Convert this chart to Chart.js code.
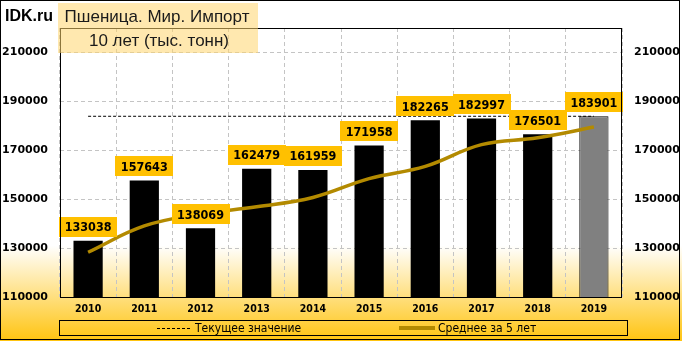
<!DOCTYPE html>
<html>
<head>
<meta charset="utf-8">
<script src="https://cdn.jsdelivr.net/npm/chart.js@4.4.1/dist/chart.umd.min.js"></script>
<style>
  html, body { margin: 0; padding: 0; background: #fff; }
  #wrap { width: 682px; height: 341px; }
</style>
</head>
<body>
<div id="wrap"><canvas id="chart" width="682" height="341"></canvas></div>
<script>
// Данные графика: мировой импорт пшеницы, тыс. тонн
const years = ["2010", "2011", "2012", "2013", "2014", "2015", "2016", "2017", "2018", "2019"];
const imports = [133038, 157643, 138069, 162479, 161959, 171958, 182265, 182997, 176501, 183901];
const average5 = [128300, 139050, 143900, 146900, 150700, 158400, 163400, 172300, 175100, 179500];
const currentValue = [183901, 183901, 183901, 183901, 183901, 183901, 183901, 183901, 183901, 183901];
const yTicks = [110000, 130000, 150000, 170000, 190000, 210000];

const titleLines = ["Пшеница. Мир. Импорт", "10 лет (тыс. тонн)"];
const siteName = "IDK.ru";

const gold = "#ffc000";
const avgColor = "#b38a00";
const barColors = years.map((y, i) => i === years.length - 1 ? "#808080" : "#000000");

const tickFont = { family: "DejaVu Sans", weight: "bold", size: 11 };
const xFont = { family: "DejaVu Sans Condensed", weight: "bold", size: 10.5 };

// Фон, подписи значений, рамки, заголовок и легенда рисуются одним плагином
const decor = {
  id: "decor",
  beforeDraw(chart) {
    const { ctx, width, height } = chart;
    const g = ctx.createLinearGradient(0, 0, 0, height);
    g.addColorStop(0, "#ffffff");
    g.addColorStop(0.72, "#ffffff");
    g.addColorStop(1, "#ffc410");
    ctx.save();
    ctx.fillStyle = g;
    ctx.fillRect(0, 0, width, height);
    ctx.restore();
  },
  afterDatasetsDraw(chart) {
    const { ctx } = chart;
    const meta = chart.getDatasetMeta(0);
    ctx.save();
    ctx.font = "bold 12.5px 'DejaVu Sans Condensed'";
    ctx.textAlign = "center";
    ctx.textBaseline = "middle";
    meta.data.forEach((bar, i) => {
      const text = String(imports[i]);
      const w = ctx.measureText(text).width + 11;
      const h = 20;
      const bottom = bar.y - 4;
      ctx.fillStyle = gold;
      ctx.fillRect(Math.round(bar.x - w / 2), Math.round(bottom - h), Math.round(w), h);
      ctx.fillStyle = "#000";
      ctx.fillText(text, bar.x, bottom - h / 2 + 1);
    });
    ctx.restore();
  },
  afterDraw(chart) {
    const { ctx, chartArea: a, width, height } = chart;
    ctx.save();
    // рамка области построения
    ctx.strokeStyle = "#000";
    ctx.lineWidth = 1;
    ctx.strokeRect(Math.round(a.left) + 0.5, Math.round(a.top) + 0.5,
      Math.round(a.right - a.left) - 1, Math.round(a.bottom - a.top));
    // внешняя рамка
    ctx.strokeRect(0.5, 0.5, width - 3, height - 2);

    // заголовок
    ctx.fillStyle = "rgba(255, 214, 110, 0.55)";
    ctx.fillRect(58, 3, 200, 50);
    ctx.fillStyle = "#1a1a1a";
    ctx.textAlign = "center";
    ctx.textBaseline = "alphabetic";
    ctx.font = "17px 'Liberation Sans'";
    ctx.fillText(titleLines[0], 157, 22);
    ctx.fillText(titleLines[1], 159, 46);
    ctx.textAlign = "left";
    ctx.fillStyle = "#000";
    ctx.font = "bold 16px 'Liberation Sans'";
    ctx.fillText(siteName, 5, 21);

    // легенда
    const ly = 328;
    ctx.strokeRect(59.5, 320.5, 568, 15);
    ctx.font = "12px 'DejaVu Sans Condensed'";
    ctx.textBaseline = "middle";
    const ds = chart.data.datasets;
    const cur = ds[2], avg = ds[1];
    ctx.strokeStyle = cur.borderColor;
    ctx.lineWidth = 1;
    ctx.setLineDash(cur.borderDash);
    ctx.beginPath(); ctx.moveTo(157, ly + 0.5); ctx.lineTo(190, ly + 0.5); ctx.stroke();
    ctx.setLineDash([]);
    ctx.fillStyle = "#000";
    ctx.fillText(cur.label, 195, ly + 1);
    ctx.strokeStyle = avg.borderColor;
    ctx.lineWidth = 4;
    ctx.beginPath(); ctx.moveTo(399, ly); ctx.lineTo(435, ly); ctx.stroke();
    ctx.fillText(avg.label, 438, ly + 1);
    ctx.restore();
  }
};

new Chart(document.getElementById("chart"), {
  data: {
    labels: years,
    datasets: [
      {
        type: "bar",
        label: "Импорт",
        data: imports,
        backgroundColor: barColors,
        borderColor: "#000",
        borderWidth: years.map((y, i) => i === years.length - 1 ? 1 : 0),
        barPercentage: 0.52,
        categoryPercentage: 1,
        order: 2
      },
      {
        type: "line",
        label: "Среднее за 5 лет",
        data: average5,
        borderColor: avgColor,
        borderWidth: 3.5,
        pointRadius: 0,
        tension: 0.4,
        fill: false,
        order: 1
      },
      {
        type: "line",
        label: "Текущее значение",
        data: currentValue,
        borderColor: "#000",
        borderWidth: 1,
        borderDash: [3, 2],
        pointRadius: 0,
        fill: false,
        order: 3
      }
    ]
  },
  options: {
    responsive: false,
    animation: false,
    devicePixelRatio: 1,
    layout: { padding: { top: 28, left: 0, right: 0, bottom: 0 } },
    plugins: { legend: { display: false }, tooltip: { enabled: false } },
    scales: {
      x: {
        grid: { display: true, offset: true, color: "#c4c4c4", drawTicks: false },
        border: { display: false, dash: [4, 3] },
        ticks: { color: "#000", font: xFont, padding: 6, maxRotation: 0 },
        afterFit(scale) { scale.height = 44; }
      },
      y: {
        position: "left",
        min: 110000,
        max: 220000,
        grid: { color: "#c4c4c4", drawTicks: false },
        border: { display: false, dash: [4, 3] },
        ticks: { color: "#000", font: tickFont, padding: 12, callback: v => String(v) },
        afterBuildTicks(scale) { scale.ticks = yTicks.map(v => ({ value: v })); },
        afterFit(scale) { scale.width = 60; }
      },
      y2: {
        position: "right",
        min: 110000,
        max: 220000,
        grid: { display: false, drawTicks: false },
        border: { display: false },
        ticks: { color: "#000", font: tickFont, padding: 12, callback: v => String(v) },
        afterBuildTicks(scale) { scale.ticks = yTicks.map(v => ({ value: v })); },
        afterFit(scale) { scale.width = 60; }
      }
    }
  },
  plugins: [decor]
});
</script>
</body>
</html>
